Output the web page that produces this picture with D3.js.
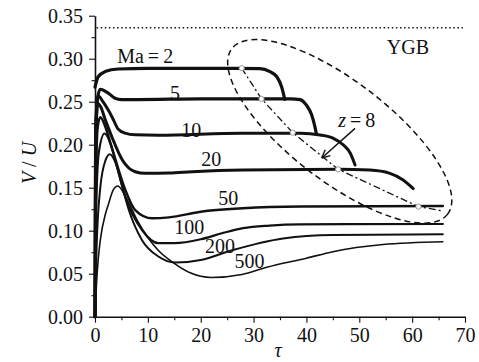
<!DOCTYPE html>
<html>
<head>
<meta charset="utf-8">
<script src="https://cdn.jsdelivr.net/npm/d3@7"></script>
<style>
body { margin: 0; background: #fff; }
.axis path, .axis line { stroke: #111; }
.curve { fill: none; stroke: #111; stroke-linejoin: round; stroke-linecap: round; }
</style>
</head>
<body>
<svg id="chart" width="479" height="362"></svg>
<script>
var serif = "'Liberation Serif', 'DejaVu Serif', serif";
// curves: tau and V/U for each Mach number
var ma_labels = ["2", "5", "10", "20", "50", "100", "200", "500"];
var tau_2 = [0, 0.6, 1.9, 4.4, 10, 20, 31.2, 33.1, 34.4, 35.3, 35.9];
var v_2 = [0.267, 0.279, 0.285, 0.288, 0.2888, 0.2888, 0.2885, 0.2849, 0.279, 0.2674, 0.2528];
var tau_5 = [0, 0.15, 0.5, 1.0, 2.5, 3.8, 5, 8, 20, 37, 38.8, 40, 41, 41.6, 41.9];
var v_5 = [0, 0.2, 0.255, 0.2645, 0.26, 0.254, 0.2525, 0.2525, 0.2533, 0.2533, 0.2525, 0.246, 0.2345, 0.221, 0.212];
var tau_10 = [0, 0.1, 0.6, 1.5, 3.2, 4.4, 5.7, 7.6, 12, 27.8, 38.8, 42.6, 45.1, 47, 48.3, 49.2];
var v_10 = [0, 0.22, 0.257, 0.25, 0.2326, 0.218, 0.2135, 0.2115, 0.211, 0.2133, 0.2133, 0.2113, 0.2074, 0.1997, 0.19, 0.1764];
var tau_20 = [0, 0.1, 0.5, 1, 2, 3.2, 5.2, 7.6, 9.5, 14, 18.4, 28, 46, 52, 55.8, 58.3, 60.2];
var v_20 = [0, 0.2, 0.248, 0.245, 0.228, 0.209, 0.182, 0.1686, 0.1667, 0.167, 0.1686, 0.1706, 0.1714, 0.1705, 0.1667, 0.159, 0.149];
var tau_50 = [0, 0.15, 0.5, 1, 2, 3, 4, 5.7, 7.6, 10.8, 14, 20, 28, 39, 65.8];
var v_50 = [0, 0.15, 0.22, 0.232, 0.22, 0.2, 0.18, 0.148, 0.124, 0.1144, 0.1155, 0.122, 0.126, 0.128, 0.1287];
var tau_100 = [0, 0.2, 0.7, 1.8, 3, 4, 5.7, 8.9, 12, 15, 20, 24, 28, 33, 38.8, 65.8];
var v_100 = [0, 0.12, 0.19, 0.213, 0.2, 0.178, 0.14, 0.1008, 0.0855, 0.0855, 0.09, 0.097, 0.103, 0.106, 0.1074, 0.1078];
var tau_200 = [0, 0.3, 1, 2, 2.8, 4, 5, 6.4, 8.9, 12, 15.2, 20, 26.1, 35.6, 45, 65.8];
var v_200 = [0, 0.08, 0.15, 0.182, 0.189, 0.177, 0.155, 0.124, 0.089, 0.07, 0.063, 0.066, 0.0776, 0.091, 0.095, 0.0958];
var tau_500 = [0, 0.3, 0.6, 1, 2, 2.5, 3.5, 4.3, 6, 8, 10, 12, 15, 18, 22, 27.8, 32.5, 40, 45, 54.5, 65.8];
var v_500 = [0, 0.04, 0.066, 0.089, 0.12, 0.13, 0.148, 0.152, 0.137, 0.112, 0.092, 0.077, 0.062, 0.051, 0.0455, 0.049, 0.0574, 0.068, 0.0756, 0.084, 0.0872];
var widths = [3.2, 3.2, 3, 3, 2.5, 2.2, 2, 1.6];

// z = 8 line through the open circles
var tau_z8 = [27.75, 31.5, 37.4, 46.0, 61.2, 65.8];
var v_z8 = [0.289, 0.2533, 0.214, 0.1714, 0.128, 0.1229];
var ygb = 0.336;

var x_ticks = [0, 10, 20, 30, 40, 50, 60, 70];
var y_ticks = [0, 0.05, 0.10, 0.15, 0.20, 0.25, 0.30, 0.35];

var svg = d3.select("#chart");
var x = d3.scaleLinear().domain([0, 70]).range([95, 465]);
var y = d3.scaleLinear().domain([0, 0.35]).range([316.7, 15.7]);

// minor ticks
svg.append("g")
        .attr("class", "axis")
        .attr("transform", "translate(0," + y(0) + ")")
        .call(d3.axisBottom(x).tickValues(d3.range(5, 70, 10)).tickSize(3.5).tickFormat(""))
        .call(function (g) { g.select(".domain").remove(); });
svg.append("g")
        .attr("class", "axis")
        .attr("transform", "translate(" + x(0) + ",0)")
        .call(d3.axisLeft(y).tickValues(d3.range(0.025, 0.35, 0.05)).tickSize(3.5).tickFormat(""))
        .call(function (g) { g.select(".domain").remove(); });

svg.append("g")
        .attr("class", "axis")
        .attr("transform", "translate(0," + y(0) + ")")
        .call(d3.axisBottom(x).tickValues(x_ticks).tickSize(6).tickSizeOuter(0).tickPadding(5).tickFormat(d3.format("d")));
svg.append("g")
        .attr("class", "axis")
        .attr("transform", "translate(" + x(0) + ",0)")
        .call(d3.axisLeft(y).tickValues(y_ticks).tickSize(6).tickSizeOuter(0).tickPadding(6).tickFormat(d3.format(".2f")));
svg.selectAll(".axis").attr("font-family", serif).attr("font-size", 20);
svg.selectAll(".axis text").attr("fill", "#111");
svg.selectAll(".axis .domain").attr("stroke-width", 1.6);
svg.selectAll(".axis .tick line").attr("stroke-width", 1.1);

// YGB dotted line
svg.append("line")
        .attr("x1", x(0.3)).attr("x2", x(69.6))
        .attr("y1", y(ygb)).attr("y2", y(ygb))
        .attr("stroke", "#111").attr("stroke-width", 1.5)
        .attr("stroke-dasharray", "1.5,2.6");

var all_tau = [tau_2, tau_5, tau_10, tau_20, tau_50, tau_100, tau_200, tau_500];
var all_v = [v_2, v_5, v_10, v_20, v_50, v_100, v_200, v_500];
var line = d3.line()
        .x(function (d) { return x(d[0]); })
        .y(function (d) { return y(d[1]); })
        .curve(d3.curveMonotoneX);
for (var i = 0; i < all_tau.length; i++) {
    var pts = d3.zip(all_tau[i], all_v[i]);
    svg.append("path")
            .datum(pts)
            .attr("class", "curve")
            .attr("stroke-width", widths[i])
            .attr("d", line);
}

// dashed ellipse
var ell_c = [46.3, 0.2155];
svg.append("ellipse")
        .attr("cx", 0).attr("cy", 0)
        .attr("rx", 136).attr("ry", 50)
        .attr("transform", "translate(" + x(ell_c[0]) + "," + y(ell_c[1]) + ") rotate(37.5)")
        .attr("fill", "none").attr("stroke", "#111").attr("stroke-width", 1.5)
        .attr("stroke-dasharray", "6,4");

// dash-dot line z = 8
var zline = d3.line()
        .x(function (d) { return x(d[0]); })
        .y(function (d) { return y(d[1]); });
svg.append("path")
        .datum(d3.zip(tau_z8, v_z8))
        .attr("fill", "none").attr("stroke", "#111").attr("stroke-width", 1.3)
        .attr("stroke-dasharray", "7,3,2,3")
        .attr("d", zline);
svg.selectAll(".zc")
        .data(d3.zip(tau_z8, v_z8).slice(0, 5))
        .enter().append("circle")
        .attr("class", "zc")
        .attr("cx", function (d) { return x(d[0]); })
        .attr("cy", function (d) { return y(d[1]); })
        .attr("r", 2.6)
        .attr("fill", "#fff").attr("stroke", "#999").attr("stroke-width", 1);

// arrow
var a0 = [x(49.2), y(0.219)], a1 = [x(42.9), y(0.1845)];
svg.append("line")
        .attr("x1", a0[0]).attr("y1", a0[1]).attr("x2", a1[0]).attr("y2", a1[1])
        .attr("stroke", "#111").attr("stroke-width", 1.4);
var ang = Math.atan2(a0[1] - a1[1], a0[0] - a1[0]);
[-0.45, 0.45].forEach(function (s) {
    svg.append("line")
            .attr("x1", a1[0]).attr("y1", a1[1])
            .attr("x2", a1[0] + 9 * Math.cos(ang + s))
            .attr("y2", a1[1] + 9 * Math.sin(ang + s))
            .attr("stroke", "#111").attr("stroke-width", 1.4);
});

function label(xp, yp) {
    return svg.append("text")
            .attr("x", xp).attr("y", yp)
            .attr("font-family", serif)
            .attr("font-size", 20)
            .attr("fill", "#111");
}

// curve labels
var lbl_pos = [[4.2, 0.295], [14.2, 0.2525], [16.3, 0.2095], [20.1, 0.1755], [23.3, 0.1298], [15.0, 0.0957], [20.8, 0.0745], [26.4, 0.0562]];
lbl_pos.forEach(function (p, i) {
    label(x(p[0]), y(p[1])).text(i == 0 ? "Ma\u2009=\u20092" : ma_labels[i]);
});
label(x(55.2), y(0.3055)).text("YGB");
var zt = label(x(46), y(0.221));
zt.append("tspan").attr("font-style", "italic").text("z");
zt.append("tspan").text("\u2009=\u20098");

// axis titles
var yt = svg.append("text")
        .attr("transform", "translate(36,163) rotate(-90)")
        .attr("font-family", serif).attr("font-size", 20).attr("fill", "#111")
        .style("text-anchor", "middle");
yt.append("tspan").attr("font-style", "italic").text("V");
yt.append("tspan").text(" / ");
yt.append("tspan").attr("font-style", "italic").text("U");
label(278, 357)
        .attr("font-style", "italic")
        .style("text-anchor", "middle")
        .text("\u03c4");
</script>
</body>
</html>
